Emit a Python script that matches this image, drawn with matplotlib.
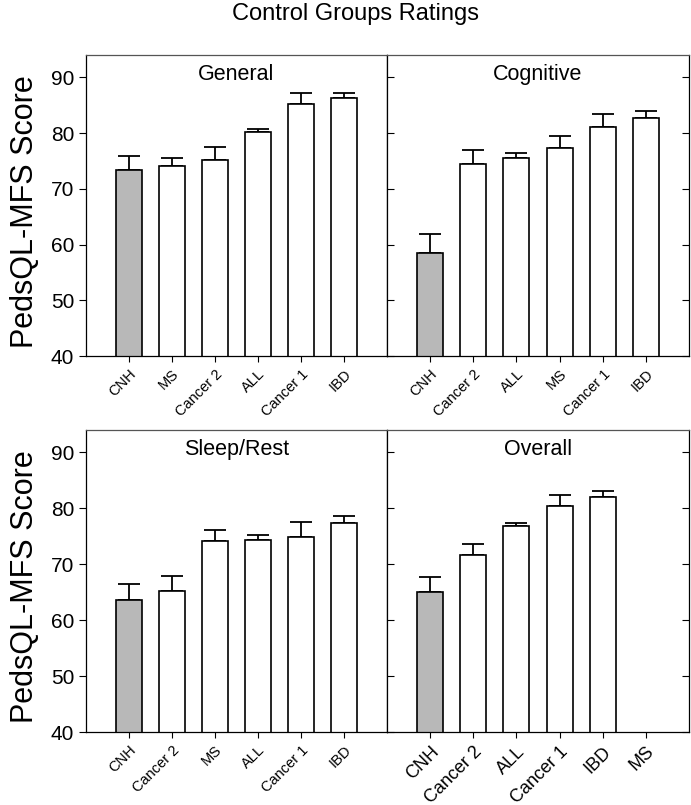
import matplotlib.pyplot as plt
import numpy as np

plt.rcParams['font.family'] = ['Liberation Sans', 'DejaVu Sans']

general_groups = ["CNH", "MS", "Cancer 2", "ALL", "Cancer 1", "IBD"]
general_mean = [73.3, 74.0, 75.2, 80.1, 85.2, 86.3]
general_upper = [75.8, 75.6, 77.5, 80.8, 87.2, 87.2]

cognitive_groups = ["CNH", "Cancer 2", "ALL", "MS", "Cancer 1", "IBD"]
cognitive_mean = [58.5, 74.4, 75.6, 77.4, 81.0, 82.7]
cognitive_upper = [61.8, 76.9, 76.5, 79.5, 83.4, 83.9]

sleep_groups = ["CNH", "Cancer 2", "MS", "ALL", "Cancer 1", "IBD"]
sleep_mean = [63.6, 65.2, 74.2, 74.4, 74.9, 77.3]
sleep_upper = [66.5, 67.9, 76.1, 75.2, 77.6, 78.6]

overall_groups = ["CNH", "Cancer 2", "ALL", "Cancer 1", "IBD", "MS"]
overall_mean = [65.1, 71.7, 76.8, 80.4, 82.1, np.nan]
overall_upper = [67.7, 73.7, 77.4, 82.3, 83.1, np.nan]

panels = [
    ("General", general_groups, general_mean, general_upper),
    ("Cognitive", cognitive_groups, cognitive_mean, cognitive_upper),
    ("Sleep/Rest", sleep_groups, sleep_mean, sleep_upper),
    ("Overall", overall_groups, overall_mean, overall_upper),
]

W, H = 691, 805
fig = plt.figure(figsize=(W / 100, H / 100), dpi=100)

# axes rectangles in pixels: left, top, right, bottom
boxes = [
    (86, 55, 387, 356),
    (387, 55, 689, 356),
    (86, 430, 387, 732),
    (387, 430, 689, 732),
]
label_sizes = [10.5, 10.5, 10.5, 13]

for i, ((title, groups, mean, upper), box) in enumerate(zip(panels, boxes)):
    l, t, r, b = box
    ax = fig.add_axes([l / W, (H - b) / H, (r - l) / W, (b - t) / H])
    x = np.arange(len(groups))
    mean = np.array(mean, dtype=float)
    upper = np.array(upper, dtype=float)
    colors = ["#b8b8b8"] + ["white"] * (len(groups) - 1)
    ax.errorbar(x, mean, yerr=[np.zeros_like(mean), upper - mean], fmt="none",
                ecolor="black", elinewidth=1.3, capsize=8, capthick=1.3, zorder=1)
    ax.bar(x, np.nan_to_num(mean), width=0.6, color=colors, edgecolor="black",
           linewidth=1.2, zorder=2)
    ax.set_xlim(-1, 6)
    ax.set_ylim(40, 94)
    ax.set_yticks([40, 50, 60, 70, 80, 90])
    ax.set_xticks(x)
    ax.set_xticklabels(groups, rotation=45, ha="right", rotation_mode="anchor",
                       fontsize=label_sizes[i])
    ax.tick_params(axis="x", length=4, width=0.8, pad=4)
    ax.text(0.5, 0.935, title, transform=ax.transAxes, ha="center", va="center",
            fontsize=15.5)
    for s in ax.spines.values():
        s.set_linewidth(0.9)
    ax.spines["top"].set_color("#555555")
    if i % 2 == 0:
        ax.tick_params(axis="y", direction="out", length=5, width=0.8, labelsize=15)
        ax.set_ylabel("PedsQL-MFS Score", fontsize=22)
        ax.yaxis.set_label_coords((40 - l) / (r - l), 0.48)
    else:
        ax.tick_params(axis="y", direction="in", length=5, width=0.8,
                       left=True, right=True, labelleft=False)

fig.text(355 / W, 1 - 14 / H, "Control Groups Ratings", ha="center", va="center",
         fontsize=17)

fig.savefig("out.png", dpi=100)
